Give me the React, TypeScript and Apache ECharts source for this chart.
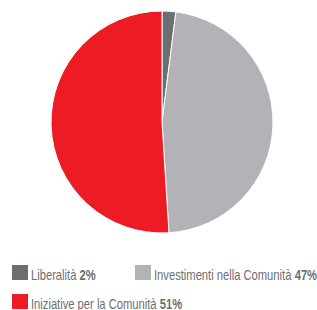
import React, { useEffect, useRef } from "react";
import * as echarts from "echarts";

const categories = ["Liberalità", "Investimenti nella Comunità", "Iniziative per la Comunità"];
const values = [2, 47, 51];
const colors = ["#6d6e71", "#b1b3b6", "#ed1c24"];

const FONT = "'Liberation Sans', Arial, sans-serif";

export default function App() {
  const ref = useRef<HTMLDivElement>(null);
  useEffect(() => {
    if (!ref.current) return;
    const chart = echarts.init(ref.current, undefined, { renderer: "svg" });
    const legendPos = [
      { x: 12, y: 265 },
      { x: 135, y: 265 },
      { x: 12, y: 294 },
    ];
    const legendItems = categories.map((c, i) => ({
      type: "group",
      x: legendPos[i].x,
      y: legendPos[i].y,
      silent: true,
      children: [
        { type: "rect", shape: { x: 0, y: 0, width: 16, height: 15 }, style: { fill: colors[i] } },
        {
          type: "text",
          x: 19,
          y: 10.5,
          scaleX: 0.8,
          style: {
            text: `{n|${c}} {b|${values[i]}%}`,
            fill: "#6d6e71",
            font: `14px ${FONT}`,
            verticalAlign: "middle",
            align: "left",
            rich: {
              n: { fill: "#6d6e71", fontFamily: FONT, fontSize: 14 },
              b: { fill: "#6d6e71", fontFamily: FONT, fontSize: 14, fontWeight: "bold" },
            },
          },
        },
      ],
    }));
    chart.setOption({
      animation: false,
      graphic: legendItems,
      series: [
        {
          type: "pie",
          center: [162, 122],
          radius: [0, 111],
          startAngle: 90,
          clockwise: true,
          label: { show: false },
          labelLine: { show: false },
          itemStyle: { borderColor: "#ffffff", borderWidth: 1 },
          emphasis: { disabled: true },
          data: categories.map((c, i) => ({ name: c, value: values[i], itemStyle: { color: colors[i] } })),
        },
      ],
    });
    return () => chart.dispose();
  }, []);
  return (
    <div
      ref={ref}
      style={{ position: "absolute", left: 0, top: 0, width: 317, height: 310, background: "#fff" }}
    />
  );
}
